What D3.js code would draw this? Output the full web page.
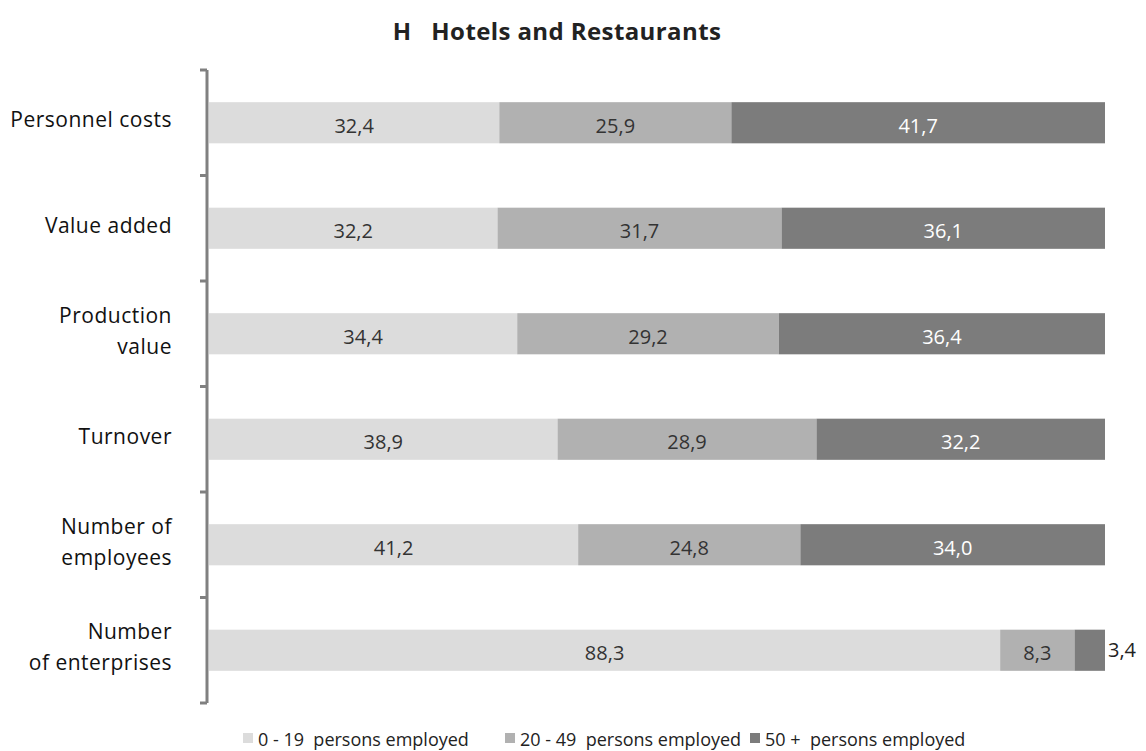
<!DOCTYPE html>
<html>
<head>
<meta charset="utf-8">
<script src="https://cdn.jsdelivr.net/npm/d3@7"></script>
<style>
  body { margin: 0; background: #fff; }
  svg text { font-family: "Open Sans", "Noto Sans", sans-serif; }
</style>
</head>
<body>
<svg id="chart" width="1146" height="751"></svg>
<script>
// Share of each indicator by enterprise size class (percent)
const categories = [
  ["Personnel costs"],
  ["Value added"],
  ["Production", "value"],
  ["Turnover"],
  ["Number of", "employees"],
  ["Number", "of enterprises"]
];
const small  = [32.4, 32.2, 34.4, 38.9, 41.2, 88.3];
const medium = [25.9, 31.7, 29.2, 28.9, 24.8, 8.3];
const large  = [41.7, 36.1, 36.4, 32.2, 34.0, 3.4];
const seriesNames = ["0 - 19  persons employed", "20 - 49  persons employed", "50 +  persons employed"];
const colors = ["#dcdcdc", "#b1b1b1", "#7c7c7c"];
const textColors = ["#333333", "#333333", "#ffffff"];

const svg = d3.select("#chart");
const fmt = v => d3.format(".1f")(v).replace(".", ",");

const x = d3.scaleLinear().domain([0, 100]).range([209, 1105]);
const y = d3.scaleBand().domain(d3.range(categories.length)).range([70, 703]).paddingInner(0.61).paddingOuter(0.305);

const rows = categories.map((c, i) => ({ i, vals: [small[i], medium[i], large[i]] }));

// Stacked bars with value labels
rows.forEach(r => {
  let acc = 0;
  r.vals.forEach((v, s) => {
    const x0 = x(acc), x1 = x(acc + v);
    acc += v;
    svg.append("rect")
      .attr("x", x0).attr("y", y(r.i))
      .attr("width", x1 - x0).attr("height", y.bandwidth())
      .attr("fill", colors[s]);
    const narrow = (x1 - x0) < 40;
    svg.append("text")
      .attr("x", narrow ? x1 + 3 : (x0 + x1) / 2)
      .attr("y", y(r.i) + y.bandwidth() / 2 + (narrow ? 7 : 10))
      .attr("text-anchor", narrow ? "start" : "middle")
      .attr("font-size", 20)
      .attr("fill", narrow ? "#222" : textColors[s])
      .text(fmt(v));
  });
});

// Category axis with ticks on band boundaries
const axisX = 207;
svg.append("line").attr("x1", axisX).attr("x2", axisX).attr("y1", 70).attr("y2", 703)
  .attr("stroke", "#808080").attr("stroke-width", 3);
d3.range(categories.length + 1).forEach(k => {
  const ty = 70 + k * y.step();
  svg.append("line").attr("x1", 200).attr("x2", axisX).attr("y1", ty).attr("y2", ty)
    .attr("stroke", "#808080").attr("stroke-width", 3);
});

// Category labels
categories.forEach((lines, i) => {
  const cy = y(i) + y.bandwidth() / 2 - 3;
  const lh = 31;
  const t = svg.append("text").attr("text-anchor", "end").attr("font-size", 21)
    .attr("letter-spacing", 0.5).attr("fill", "#111");
  lines.forEach((ln, j) => {
    t.append("tspan").attr("x", 172)
      .attr("y", cy + 7.5 + (j - (lines.length - 1) / 2) * lh)
      .text(ln);
  });
});

// Title
svg.append("text").attr("x", 557).attr("y", 40).attr("text-anchor", "middle")
  .attr("font-size", 24).attr("font-weight", "bold").attr("letter-spacing", 0.4).attr("fill", "#222")
  .attr("xml:space", "preserve")
  .text("H   Hotels and Restaurants");

// Legend
const legendX = [243, 505, 750];
seriesNames.forEach((n, s) => {
  svg.append("rect").attr("x", legendX[s]).attr("y", 733).attr("width", 10).attr("height", 10).attr("fill", colors[s]);
  svg.append("text").attr("x", legendX[s] + 15).attr("y", 746).attr("font-size", 18).attr("fill", "#222")
    .attr("xml:space", "preserve").text(n);
});
</script>
</body>
</html>
